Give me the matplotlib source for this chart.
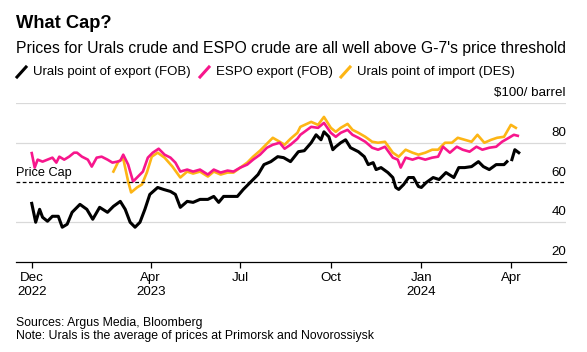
import numpy as np
import matplotlib.pyplot as plt
import matplotlib.dates as mdates
from matplotlib.lines import Line2D
import pandas as pd

plt.rcParams['font.family'] = ['Liberation Sans', 'DejaVu Sans']

# Urals point of export (FOB)
urals_dates = ['2022-12-01', '2022-12-05', '2022-12-09', '2022-12-12', '2022-12-17', '2022-12-22',
               '2022-12-28', '2023-01-01', '2023-01-06', '2023-01-11', '2023-01-19', '2023-01-26',
               '2023-02-01', '2023-02-08', '2023-02-16', '2023-02-22', '2023-03-01', '2023-03-06',
               '2023-03-11', '2023-03-16', '2023-03-21', '2023-03-26', '2023-03-31', '2023-04-08',
               '2023-04-14', '2023-04-21', '2023-04-26', '2023-05-01', '2023-05-08', '2023-05-14',
               '2023-05-21', '2023-05-29', '2023-06-04', '2023-06-09', '2023-06-14', '2023-06-21',
               '2023-06-28', '2023-07-04', '2023-07-11', '2023-07-19', '2023-07-25', '2023-08-01',
               '2023-08-08', '2023-08-14', '2023-08-21', '2023-08-29', '2023-09-04', '2023-09-11',
               '2023-09-16', '2023-09-21', '2023-09-24', '2023-09-29', '2023-10-03', '2023-10-06',
               '2023-10-11', '2023-10-16', '2023-10-21', '2023-10-29', '2023-11-04', '2023-11-08',
               '2023-11-13', '2023-11-16', '2023-11-21', '2023-11-28', '2023-12-03', '2023-12-06',
               '2023-12-09', '2023-12-14', '2023-12-19', '2023-12-24', '2023-12-29', '2024-01-01',
               '2024-01-06', '2024-01-13', '2024-01-19', '2024-01-26', '2024-02-03', '2024-02-08',
               '2024-02-14', '2024-02-21', '2024-02-28', '2024-03-04', '2024-03-10', '2024-03-17',
               '2024-03-25', '2024-03-28', '2024-03-30', '2024-04-02', '2024-04-05', '2024-04-09']
urals = [49.5, 40, 46.5, 42.5, 40.5, 43,
         43, 37.5, 39, 45, 49, 46.5,
         41.5, 47.5, 45, 48, 50.5, 46.5,
         40, 37.5, 40, 46.5, 54, 57.5,
         56.5, 55.5, 54, 47.5, 50.5, 50,
         51.5, 51.5, 53, 50, 53, 53,
         53, 56.5, 60, 64, 69, 70.5,
         73, 72.5, 70.5, 75.5, 76, 80,
         84, 81.5, 85.5, 83, 76.5, 78,
         80, 81.5, 77.5, 75.5, 73, 69,
         70, 66.5, 67.5, 65, 62.5, 57.5,
         56.5, 59, 62.5, 62.5, 58, 57.5,
         60, 62.5, 61.5, 65, 62.5, 67.5,
         67.5, 68, 70.5, 68, 66.5, 69,
         69, 70.5, np.nan, 71.5, 76.5, 75]

# ESPO export (FOB)
espo_dates = ['2022-12-01', '2022-12-04', '2022-12-07', '2022-12-12', '2022-12-17', '2022-12-22',
              '2022-12-26', '2022-12-29', '2023-01-03', '2023-01-08', '2023-01-13', '2023-01-16',
              '2023-01-21', '2023-01-27', '2023-01-31', '2023-02-05', '2023-02-10', '2023-02-16',
              '2023-02-21', '2023-02-26', '2023-03-01', '2023-03-04', '2023-03-09', '2023-03-14',
              '2023-03-19', '2023-03-24', '2023-03-29', '2023-04-03', '2023-04-09', '2023-04-15',
              '2023-04-21', '2023-04-26', '2023-05-01', '2023-05-08', '2023-05-14', '2023-05-21',
              '2023-05-29', '2023-06-04', '2023-06-11', '2023-06-18', '2023-06-24', '2023-07-01',
              '2023-07-08', '2023-07-14', '2023-07-21', '2023-07-28', '2023-08-03', '2023-08-10',
              '2023-08-15', '2023-08-21', '2023-08-28', '2023-08-31', '2023-09-11', '2023-09-18',
              '2023-09-24', '2023-10-01', '2023-10-06', '2023-10-11', '2023-10-18', '2023-10-23',
              '2023-10-29', '2023-11-05', '2023-11-12', '2023-11-18', '2023-11-25', '2023-12-03',
              '2023-12-08', '2023-12-11', '2023-12-16', '2023-12-23', '2023-12-29', '2024-01-05',
              '2024-01-12', '2024-01-18', '2024-01-23', '2024-01-30', '2024-02-06', '2024-02-12',
              '2024-02-19', '2024-02-26', '2024-03-03', '2024-03-10', '2024-03-17', '2024-03-23',
              '2024-03-30', '2024-04-04', '2024-04-08']
espo = [74.8, 67.5, 71.5, 70.5, 71.5, 72.5,
        70, 73, 71.5, 73, 75, 75,
        73, 71.5, 68, 72.5, 73, 71.5,
        70, 70.5, 71, 74, 69, 60.5,
        63, 65.5, 72.5, 75, 77, 74,
        72.5, 70, 65.5, 66.5, 65.5, 66.5,
        64, 66.5, 65, 66, 65.5, 67.5,
        69, 71.5, 74, 77.5, 79, 80,
        77, 79, 82, 84, 88, 87.5,
        90, 85, 83, 85, 86.5, 84,
        82.5, 80.5, 77.5, 76.5, 78, 72.5,
        71.5, 67.5, 72.5, 71.5, 72.5, 71.5,
        72.5, 73, 78, 75, 78, 76.5,
        75.5, 78, 76.5, 77.5, 78, 80.5,
        82.5, 84, 83.5]

# Urals point of import (DES)
des_dates = ['2023-02-22', '2023-02-27', '2023-03-04', '2023-03-09', '2023-03-12', '2023-03-18',
             '2023-03-23', '2023-03-28', '2023-04-02', '2023-04-08', '2023-04-15', '2023-04-23',
             '2023-05-01', '2023-05-08', '2023-05-14', '2023-05-21', '2023-05-29', '2023-06-04',
             '2023-06-11', '2023-06-18', '2023-06-24', '2023-07-01', '2023-07-08', '2023-07-14',
             '2023-07-21', '2023-07-28', '2023-08-03', '2023-08-10', '2023-08-15', '2023-08-21',
             '2023-08-28', '2023-08-31', '2023-09-11', '2023-09-18', '2023-09-24', '2023-10-01',
             '2023-10-06', '2023-10-11', '2023-10-18', '2023-10-23', '2023-10-29', '2023-11-05',
             '2023-11-12', '2023-11-18', '2023-11-25', '2023-12-03', '2023-12-09', '2023-12-16',
             '2023-12-23', '2023-12-29', '2024-01-05', '2024-01-12', '2024-01-18', '2024-01-25',
             '2024-02-01', '2024-02-07', '2024-02-14', '2024-02-21', '2024-02-27', '2024-03-05',
             '2024-03-12', '2024-03-18', '2024-03-25', '2024-04-01', '2024-04-06']
des = [65.5, 70.5, 72, 60.5, 55, 57.5,
       59, 65, 73, 75, 72.5, 68,
       62.5, 65.5, 64.5, 65.5, 63, 65.5,
       64, 65, 65, 67.5, 70, 73,
       76, 79.5, 82.5, 80.5, 79, 82,
       85, 88, 90.5, 89, 93, 87.5,
       85.5, 87.5, 89.5, 86.5, 85, 83,
       80.5, 80, 80.5, 75, 73, 76.5,
       75, 74, 75, 76.5, 76.5, 80,
       80, 82.5, 81.5, 80.5, 84, 80,
       81.5, 82.5, 83, 89, 87.5]

price_cap = 60
y_ticks = [20, 40, 60, 80, 100]
tick_dates = ['2022-12-01', '2023-04-01', '2023-07-01', '2023-10-01', '2024-01-01', '2024-04-01']
tick_labels = ['Dec\n2022', 'Apr\n2023', 'Jul', 'Oct', 'Jan\n2024', 'Apr']

black = '#000000'
pink = '#f7168c'
gold = '#fdb515'

W, H = 587, 352
fig = plt.figure(figsize=(W / 100, H / 100), dpi=100)
ax = fig.add_axes([16 / W, 1 - 262 / H, (566 - 16) / W, (262 - 103) / H])

ax.plot(pd.to_datetime(des_dates), des, color=gold, lw=1.9, zorder=3)
ax.plot(pd.to_datetime(espo_dates), espo, color=pink, lw=1.9, zorder=4)
ax.plot(pd.to_datetime(urals_dates), urals, color=black, lw=2.2, zorder=5)
ax.axhline(price_cap, color='black', lw=0.9, ls=(0, (3, 2)), zorder=6)
ax.text(0.0, price_cap + 1.8, 'Price Cap', transform=ax.get_yaxis_transform(),
        fontsize=9.2, va='bottom', ha='left')

ax.set_xlim(pd.Timestamp('2022-11-15'), pd.Timestamp('2024-05-27'))
ax.set_ylim(20, 100)

for v in y_ticks[1:]:
    if v != price_cap:
        ax.axhline(v, color='#d9d9d9', lw=0.9, zorder=1)
for v in y_ticks:
    lab = '$100/ barrel' if v == 100 else str(v)
    ax.text(1.0, v + 2.0, lab, transform=ax.get_yaxis_transform(),
            fontsize=9.6, ha='right', va='bottom')

for s in ['top', 'right', 'left']:
    ax.spines[s].set_visible(False)
ax.spines['bottom'].set_linewidth(0.9)
ax.set_yticks([])
ax.set_xticks(pd.to_datetime(tick_dates))
ax.set_xticklabels(tick_labels, fontsize=9.6, linespacing=1.3)
ax.tick_params(axis='x', length=4, width=0.9, pad=3)

fig.text(16 / W, 1 - 24 / H, 'What Cap?', fontsize=13.2, fontweight='bold', va='center')
fig.text(16 / W, 1 - 49 / H,
         "Prices for Urals crude and ESPO crude are all well above G-7's price threshold",
         fontsize=11.3, va='center')

legend_items = [('Urals point of export (FOB)', black, 17),
                ('ESPO export (FOB)', pink, 200),
                ('Urals point of import (DES)', gold, 341)]
for name, col, x0 in legend_items:
    fig.add_artist(Line2D([x0 / W, (x0 + 9) / W], [1 - 77 / H, 1 - 67 / H], color=col, lw=2.2))
    fig.text((x0 + 16) / W, 1 - 72 / H, name, fontsize=9.5, va='center')

fig.text(16 / W, 1 - 323 / H, 'Sources: Argus Media, Bloomberg', fontsize=8.8, va='center')
fig.text(16 / W, 1 - 336 / H, 'Note: Urals is the average of prices at Primorsk and Novorossiysk',
         fontsize=8.8, va='center')

fig.savefig('out.png', dpi=100)
